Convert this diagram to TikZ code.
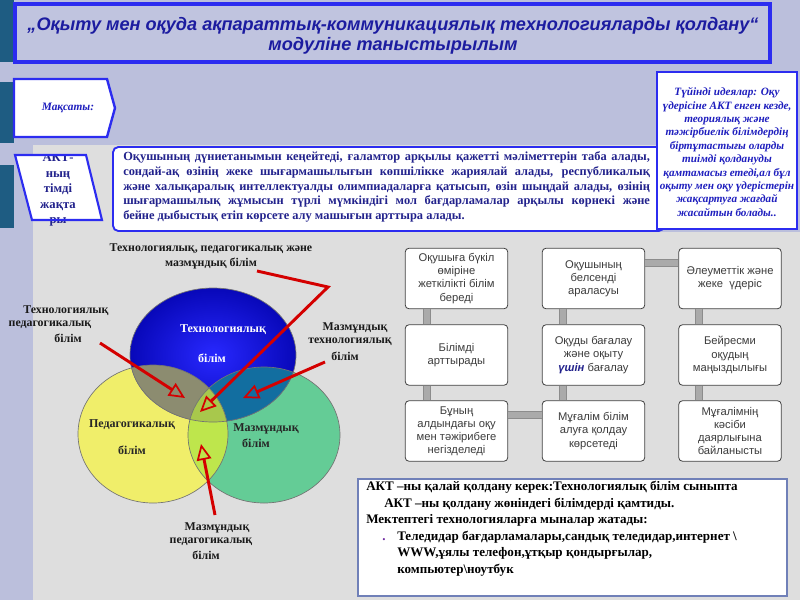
\documentclass[tikz,border=0pt]{standalone}
\usepackage{fontspec}
\setmainfont{Liberation Serif}
\newfontfamily\arialfont{Liberation Sans}
\usetikzlibrary{arrows.meta, calc}

\definecolor{slidebg}{RGB}{187,191,220}
\definecolor{panelgray}{RGB}{222,222,222}
\definecolor{stripteal}{RGB}{30,92,130}
\definecolor{frameblue}{RGB}{44,44,240}
\definecolor{titleblue}{RGB}{28,28,160}
\definecolor{textblue}{RGB}{34,34,140}
\definecolor{ideablue}{RGB}{30,30,190}
\definecolor{pedyellow}{RGB}{240,238,106}
\definecolor{congreen}{RGB}{100,204,150}
\definecolor{tpolive}{RGB}{140,140,112}
\definecolor{ctteal}{RGB}{18,110,160}
\definecolor{cplime}{RGB}{190,230,76}
\definecolor{tpacklime}{RGB}{168,200,76}
\definecolor{arrowred}{RGB}{212,0,0}
\definecolor{bargray}{RGB}{170,170,170}
\definecolor{boxtext}{RGB}{60,60,60}
\definecolor{noteframe}{RGB}{112,128,184}
\definecolor{bulletpurple}{RGB}{110,40,160}

\begin{document}
\begin{tikzpicture}[x=0.75pt,y=0.75pt,yscale=-1,xscale=1,
    gridbox/.style={draw=black!75, fill=white, rounded corners=3pt, line width=0.6pt, minimum width=77pt, minimum height=45.5pt, align=center, inner sep=1pt, text=boxtext, font=\arialfont\fontsize{8.4}{9.8}\selectfont},
    linkbar/.style={draw=black!45, line width=0.4pt, double=bargray, double distance=4.5pt},
    redarrow/.style={draw=arrowred, line width=2.2pt, -{Triangle[open, length=12pt, width=11pt, line width=1.3pt]}},
    vennlabel/.style={font=\bfseries\fontsize{8.9}{11.25}\selectfont, text=black!90, inner sep=0.75pt},
    innerlabel/.style={font=\bfseries\fontsize{9}{10}\selectfont, inner sep=0.75pt}]
    \useasboundingbox (0,0) rectangle (800,600);
    
    %Shape: Slide background
    \fill[slidebg] (0,0) rectangle (800,600);
    \fill[panelgray] (33,145) -- (657,145) -- (657,232) -- (800,232) -- (800,600) -- (33,600) -- cycle;
    %Shape: Left strip bars
    \fill[stripteal] (0,0) rectangle (14,62);
    \fill[stripteal] (0,82) rectangle (14,143);
    \fill[stripteal] (0,165) rectangle (14,228);
    
    %Shape: Title frame
    \draw[frameblue, line width=2.4pt, fill=slidebg!92!white] (15,4) rectangle (770,62);
    % Text Node
    \draw (393,36) node (title) [text=titleblue, align=center, font=\arialfont\bfseries\itshape\fontsize{13.6}{15}\selectfont] {„Оқыту мен оқуда ақпараттық-коммуникациялық технологияларды қолдану“\\модуліне таныстырылым};
    
    %Shape: Pentagon arrow
    \draw[frameblue, line width=1.8pt, fill=white] (14,79) -- (107,79) -- (115,108) -- (107,137) -- (14,137) -- cycle;
    % Text Node
    \draw (68,108) node (maqsat) [text=ideablue, font=\bfseries\itshape\fontsize{8.5}{10}\selectfont] {Мақсаты:};
    
    %Shape: Parallelogram
    \fill[white] (15,155) -- (86,155) -- (102,220) -- (32,220) -- cycle;
    \begin{scope}
    \clip (0,156) rectangle (120,240);
    % Text Node
    \draw (58,190) node (akt) [text=textblue, align=center, font=\bfseries\fontsize{9.5}{11.6}\selectfont] {АКТ-\\ның\\тімді\\жақта\\ры};
    \end{scope}
    \draw[frameblue, line width=1.6pt] (15,155) -- (86,155) -- (102,220) -- (32,220) -- cycle;
    
    %Shape: Rounded rectangle
    \draw[frameblue, line width=1.4pt, fill=white, rounded corners=4pt] (113,147) rectangle (664,231);
    % Text Node
    \draw (123,187) node (purpose) [anchor=west, text width=395pt, align=justify, inner sep=0pt, text=textblue, font=\bfseries\fontsize{9.3}{11.1}\selectfont] {Оқушының дүниетанымын кеңейтеді, ғаламтор арқылы қажетті мәліметтерін таба алады,\linebreak сондай-ақ өзінің жеке шығармашылығын көпшілікке жариялай алады, республикалық\linebreak және халықаралық интеллектуалды олимпиадаларға қатысып, өзін шыңдай алады, өзінің\linebreak шығармашылық жұмысын түрлі мүмкіндігі мол бағдарламалар арқылы көрнекі және\linebreak бейне дыбыстық етіп көрсете алу машығын арттыра алады.};
    
    %Shape: Rectangle
    \draw[frameblue, line width=1.6pt, fill=white] (657,72) rectangle (797,229);
    % Text Node
    \draw (727,152) node (idea) [text=ideablue, align=center, inner sep=0pt, font=\bfseries\itshape\fontsize{8.4}{10.05}\selectfont] {Түйінді идеялар: Оқу\\үдерісіне АКТ енген кезде,\\теориялық және\\тәжірбиелік білімдердің\\біртұтастығы оларды\\тиімді қолдануды\\қамтамасыз етеді,ал бұл\\оқыту мен оқу үдерістерін\\жақсартуға жағдай\\жасайтын болады..};
    
    %Shape: Ellipses of the Venn diagram
    \fill[pedyellow] (153,434) ellipse (75 and 69);
    \fill[congreen] (264,435) ellipse (76 and 68);
    \shade[inner color={rgb,255:red,40;green,40;blue,255}, outer color={rgb,255:red,8;green,8;blue,185}] (213,355) ellipse (83 and 67);
    \begin{scope}
    \clip (213,355) ellipse (83 and 67);
    \fill[tpolive] (153,434) ellipse (75 and 69);
    \fill[ctteal] (264,435) ellipse (76 and 68);
    \end{scope}
    \begin{scope}
    \clip (153,434) ellipse (75 and 69);
    \fill[cplime] (264,435) ellipse (76 and 68);
    \clip (264,435) ellipse (76 and 68);
    \fill[tpacklime] (213,355) ellipse (83 and 67);
    \end{scope}
    \draw[black!55, line width=0.5pt] (153,434) ellipse (75 and 69) (264,435) ellipse (76 and 68) (213,355) ellipse (83 and 67);
    
    % Text Node
    \draw (223,330) node (techtitle) [innerlabel, text=white] {Технологиялық};
    \draw (212,358) node (techknow) [innerlabel, text=white] {білім};
    \draw (132,425) node (pedtitle) [innerlabel, text=black!85] {Педагогикалық};
    \draw (132,450) node (pedknow) [innerlabel, text=black!85] {білім};
    \draw (266,429) node (contitle) [innerlabel, text=black!85] {Мазмұндық};
    \draw (256,443) node (conknow) [innerlabel, text=black!85] {білім};
    
    % Text Node
    \draw (211,256) node (tpack) [vennlabel, align=center] {Технологиялық, педагогикалық және\\мазмұндық білім};
    \draw (66,311) node (tpka) [vennlabel] {Технологиялық};
    \draw (50,325) node (tpkb) [vennlabel] {педагогикалық};
    \draw (68,338) node (tpkc) [vennlabel] {білім};
    \draw (355,328) node (tcka) [vennlabel] {Мазмұндық};
    \draw (350,342) node (tckb) [vennlabel] {технологиялық};
    \draw (345,356) node (tckc) [vennlabel] {білім};
    \draw (217,528) node (pcka) [vennlabel] {Мазмұндық};
    \draw (211,542) node (pckb) [vennlabel] {педагогикалық};
    \draw (206,555) node (pckc) [vennlabel] {білім};
    
    %Red arrows
    \coordinate (tpkfrom) at (100,343);
    \coordinate (tpkto) at (185,398);
    \coordinate (tpackfrom) at (257,271);
    \coordinate (tpackbend) at (328,287);
    \coordinate (tpackto) at (200,412);
    \coordinate (tckfrom) at (325,362);
    \coordinate (tckto) at (243,398);
    \coordinate (pckfrom) at (215,515);
    \coordinate (pckto) at (201,444);
    \draw[redarrow] (tpkfrom) -- (tpkto);
    \draw[redarrow] (tpackfrom) -- (tpackbend) -- (tpackto);
    \draw[redarrow] (tckfrom) -- (tckto);
    \draw[redarrow] (pckfrom) -- (pckto);
    
    % Boxes
    \draw (456.5,278.5) node (lifelong) [gridbox] {Оқушыға бүкіл\\өміріне\\жеткілікті білім\\береді};
    \draw (593.5,278.5) node (active) [gridbox] {Оқушының\\белсенді\\араласуы};
    \draw (730,278.5) node (social) [gridbox] {Әлеуметтік және\\жеке\ \ үдеріс};
    \draw (456.5,355) node (knowledge) [gridbox] {Білімді\\арттырады};
    \draw (593.5,355) node (assess) [gridbox] {Оқуды бағалау\\және оқыту\\{\color{textblue}\bfseries\itshape үшін} бағалау};
    \draw (730,355) node (informal) [gridbox] {Бейресми\\оқудың\\маңыздылығы};
    \draw (456.5,431) node (prior) [gridbox] {Бұның\\алдындағы оқу\\мен тәжірибеге\\негізделеді};
    \draw (593.5,431) node (support) [gridbox] {Мұғалім білім\\алуға қолдау\\көрсетеді};
    \draw (730,431) node (prof) [gridbox] {Мұғалімнің\\кәсіби\\даярлығына\\байланысты};
    
    % Links
    \draw[linkbar] ($(lifelong.south)+(-29.5,0)$) -- ($(knowledge.north)+(-29.5,0)$);
    \draw[linkbar] ($(knowledge.south)+(-29.5,0)$) -- ($(prior.north)+(-29.5,0)$);
    \draw[linkbar] ($(active.south)+(-30.5,0)$) -- ($(assess.north)+(-30.5,0)$);
    \draw[linkbar] ($(assess.south)+(-30.5,0)$) -- ($(support.north)+(-30.5,0)$);
    \draw[linkbar] ($(social.south)+(-31,0)$) -- ($(informal.north)+(-31,0)$);
    \draw[linkbar] ($(informal.south)+(-31,0)$) -- ($(prof.north)+(-31,0)$);
    \draw[linkbar] ($(active.east)+(0,-15.5)$) -- ($(social.west)+(0,-15.5)$);
    \draw[linkbar] ($(prior.east)+(0,-16)$) -- ($(support.west)+(0,-16)$);
    
    %Shape: Note rectangle
    \draw[noteframe, line width=1.3pt, fill=white] (358,479) rectangle (787,596);
    % Text Node
    \draw (366,481) node (howto) [anchor=north west, align=left, inner sep=0pt, font=\bfseries\fontsize{9.8}{12.4}\selectfont] {АКТ –ны қалай қолдану керек:Технологиялық білім сыныпта\\
    \hspace*{13.5pt}АКТ –ны қолдану жөніндегі білімдерді қамтиды.\\
    Мектептегі технологияларға мыналар жатады:\\
    \makebox[23.25pt][l]{\hspace*{12pt}\textcolor{bulletpurple}{.}}Теледидар бағдарламалары,сандық теледидар,интернет \textbackslash\\
    \hspace*{23.25pt}WWW,ұялы телефон,ұтқыр қондырғылар,\\
    \hspace*{23.25pt}компьютер\textbackslash ноутбук};
    
\end{tikzpicture}
\end{document}
